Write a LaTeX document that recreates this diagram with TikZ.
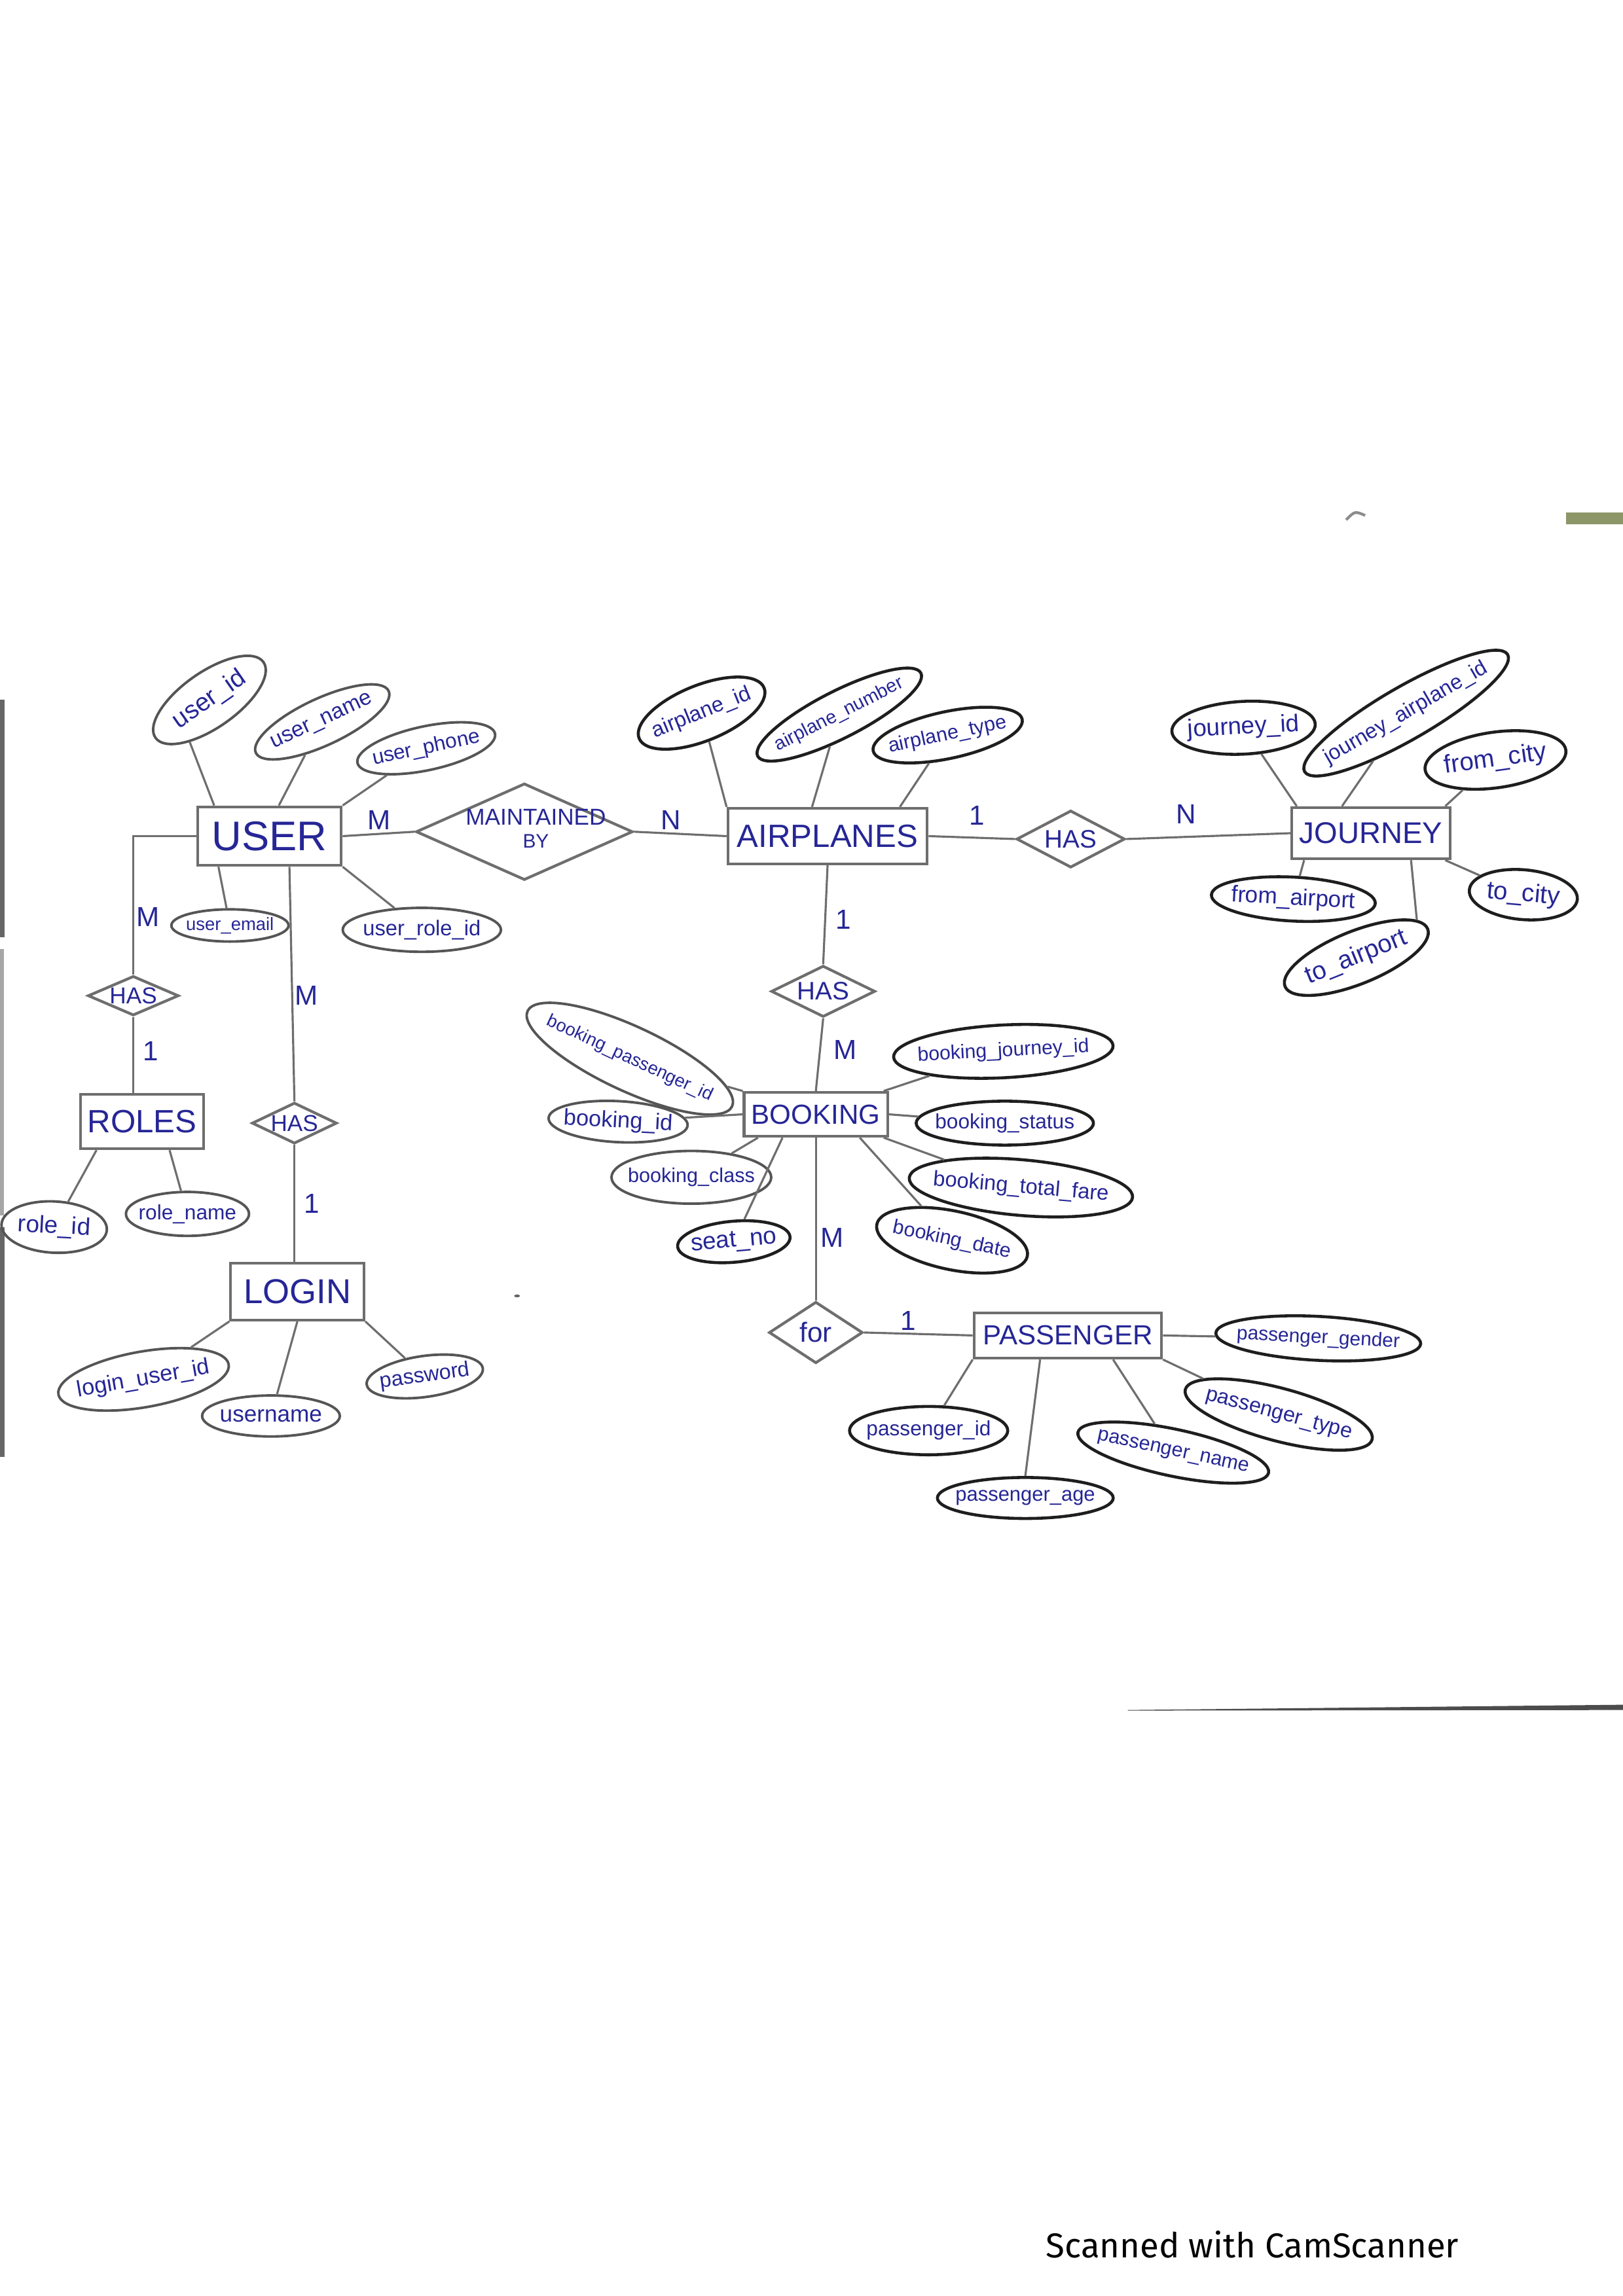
\documentclass[tikz,border=0pt]{standalone}
\usepackage{fontspec}
\setmainfont{Liberation Sans}
\newfontfamily\scanfont{Fira Sans}
\usetikzlibrary{shapes.geometric}
\definecolor{ink}{RGB}{38,38,150}
\definecolor{pencil}{RGB}{110,110,110}
\definecolor{ovalL}{RGB}{85,85,85}
\definecolor{ovalD}{RGB}{30,30,30}
\definecolor{smudge}{RGB}{140,150,105}
\newcommand\setfs[1]{\fontsize{#1}{#1}\selectfont}
\tikzset{
  ent/.style n args={3}{draw=pencil, line width=1.2pt, rectangle, minimum width=#1*0.22374mm,
    minimum height=#2*0.22374mm, inner sep=0pt, text=ink, font=\setfs{#3}},
  attr/.style n args={4}{draw=ovalL, line width=1.1pt, ellipse, minimum width=#1*0.22374mm,
    minimum height=#2*0.22374mm, rotate=#3, inner sep=0pt, text=ink, font=\setfs{#4}},
  dk/.style={draw=ovalD, line width=1.3pt},
  rel/.style n args={3}{draw=pencil, line width=1.2pt, diamond, minimum width=#1*0.22374mm,
    minimum height=#2*0.22374mm, inner sep=0pt, text=ink, font=\setfs{#3}},
  card/.style={text=ink, font=\setfs{12}, inner sep=0pt},
  conn/.style={draw=pencil, line width=0.9pt},
}
\begin{document}
\begin{tikzpicture}[x=0.022374cm, y=-0.022374cm]
\fill[white] (0,0) rectangle (1108,1568);
\useasboundingbox (0,0) rectangle (1108,1568);

% ---------- scan artefacts ----------
\fill[black!60] (0,478) rectangle (3,640);
\fill[black!35] (0,648) rectangle (2.5,830);
\fill[black!60] (0,838) rectangle (3,995);
\fill[smudge] (1069,350) rectangle (1108,358);
\draw[black!45, line width=1.2pt] (919,355) .. controls (925,349) .. (932,352);
\fill[black!70] (770,1167.8) -- (1108,1164.2) -- (1108,1167.8) -- (770,1168.2) -- cycle;
\fill[black!60] (353,885) ellipse (2 and 1);

% ---------- entities ----------
\node[ent={98}{40}{18}] (user) at (184,571) {USER};
\node[ent={136}{38}{14}] (airplanes) at (565,571) {AIRPLANES};
\node[ent={108}{35}{13}] (journey) at (936,569) {JOURNEY};
\node[ent={84}{37}{14}] (roles) at (97,766) {ROLES};
\node[ent={91}{39}{15}] (login) at (203,882) {LOGIN};
\node[ent={98}{30}{12}] (booking) at (557,761) {BOOKING};
\node[ent={128}{31}{12}] (passenger) at (729,912) {PASSENGER};

% ---------- relationships ----------
\node[rel={148}{66}{10}] (maint) at (358,568)
  {\makebox[0pt]{\hspace{3.5mm}\begin{tabular}{@{}c@{}}\setfs{10}MAINTAINED\\[0pt]\setfs{8.5}BY\end{tabular}}};
\node[rel={74}{39}{11}] (hasaj) at (731,573) {\makebox[0pt]{HAS}};
\node[rel={62}{27}{10}] (hasur) at (91,680) {\makebox[0pt]{HAS}};
\node[rel={58}{28}{10}] (hasul) at (201,767) {\makebox[0pt]{HAS}};
\node[rel={71}{35}{11}] (hasab) at (562,677) {\makebox[0pt]{HAS}};
\node[rel={64}{42}{12}] (for) at (557,910) {\makebox[0pt]{for}};

% ---------- attributes ----------
% USER
\node[attr={90}{38}{35}{11}] (uid) at (143,478) {\makebox[0pt]{user\_id}};
\node[attr={100}{32}{25}{9.5}] (uname) at (220,493) {\makebox[0pt]{user\_name}};
\node[attr={96}{30}{12}{9}] (uphone) at (291,511) {\makebox[0pt]{user\_phone}};
\node[attr={80}{22}{0}{7.8}] (uemail) at (157,632) {\makebox[0pt]{user\_email}};
\node[attr={108}{30}{0}{9.3}] (urole) at (288,635) {\makebox[0pt]{user\_role\_id}};
% ROLES
\node[attr={72}{35}{-3}{10.5}] (rid) at (37,838) {\makebox[0pt]{role\_id}};
\node[attr={84}{30}{0}{9}] (rname) at (128,829) {\makebox[0pt]{role\_name}};
% LOGIN
\node[attr={118}{38}{10}{9.8}] (luid) at (98,942) {\makebox[0pt]{login\_user\_id}};
\node[attr={94}{28}{0}{10}] (lname) at (185,967) {\makebox[0pt]{username}};
\node[attr={80}{28}{8}{9.2}] (lpass) at (290,940) {\makebox[0pt]{password}};
% AIRPLANES
\node[attr={92}{38}{22}{9.3}, dk] (aid) at (479,487) {\makebox[0pt]{airplane\_id}};
\node[attr={125}{32}{27}{8.2}, dk] (anum) at (573,488) {\makebox[0pt]{airplane\_number}};
\node[attr={104}{32}{12}{8.7}, dk] (atype) at (647,502) {\makebox[0pt]{airplane\_type}};
% JOURNEY
\node[attr={98}{36}{3}{10.5}, dk] (jid) at (849,497) {\makebox[0pt]{journey\_id}};
\node[attr={160}{36}{30}{9.2}, dk] (jaid) at (960,487) {\makebox[0pt]{journey\_airplane\_id}};
\node[attr={97}{38}{8}{11}, dk] (fcity) at (1021,519) {\makebox[0pt]{from\_city}};
\node[attr={74}{34}{-5}{11}, dk] (tcity) at (1040,611) {\makebox[0pt]{to\_city}};
\node[attr={112}{30}{-3}{10}, dk] (fairport) at (883,614) {\makebox[0pt]{from\_airport}};
\node[attr={105}{36}{22}{11}, dk] (tairport) at (926,654) {\makebox[0pt]{to\_airport}};
% BOOKING
\node[attr={154}{44}{-25}{7.8}] (bpid) at (430,723) {\makebox[0pt]{booking\_passenger\_id}};
\node[attr={150}{36}{3}{8.6}, dk] (bjid) at (685,718) {\makebox[0pt]{booking\_journey\_id}};
\node[attr={95}{28}{-3}{9.8}] (bid) at (422,766) {\makebox[0pt]{booking\_id}};
\node[attr={121}{30}{0}{9}, dk] (bstatus) at (686,767) {\makebox[0pt]{booking\_status}};
\node[attr={109}{36}{0}{8.7}] (bclass) at (472,804) {\makebox[0pt]{booking\_class}};
\node[attr={153}{38}{-5}{9.3}, dk] (bfare) at (697,811) {\makebox[0pt]{booking\_total\_fare}};
\node[attr={77}{28}{5}{10.5}, dk] (seat) at (501,848) {\makebox[0pt]{seat\_no}};
\node[attr={105}{40}{-12}{8.7}, dk] (bdate) at (650,847) {\makebox[0pt]{booking\_date}};
% PASSENGER
\node[attr={140}{30}{-3}{8.5}, dk] (pgender) at (900,914) {\makebox[0pt]{passenger\_gender}};
\node[attr={132}{36}{-15}{9.2}, dk] (ptype) at (873,966) {\makebox[0pt]{passenger\_type}};
\node[attr={133}{32}{-12}{8.7}, dk] (pname) at (801,992) {\makebox[0pt]{passenger\_name}};
\node[attr={120}{28}{0}{8.8}, dk] (page) at (700,1023) {\makebox[0pt]{passenger\_age}};
\node[attr={108}{33}{0}{9}, dk] (pid) at (634,977) {\makebox[0pt]{passenger\_id}};

% ---------- connectors ----------
\draw[conn] (user.151) -- (uid.210);
\draw[conn] (user.73) -- (uname);
\draw[conn] (user.north east) -- (uphone);
\draw[conn] (user.211) -- (uemail);
\draw[conn] (user.south east) -- (urole);
\draw[conn] (user.east) -- (maint.west);
\draw[conn] (user.west) -| (hasur.north);
\draw[conn] (user.303) -- (hasul.north);
\draw[conn] (hasur.south) -- (hasur.south |- roles.north);
\draw[conn] (roles.212) -- (rid);
\draw[conn] (roles.314) -- (rname);
\draw[conn] (hasul.south) -- (hasul.south |- login.north);
\draw[conn] (login.south west) -- (luid);
\draw[conn] (login.south) -- (lname);
\draw[conn] (login.south east) -- (lpass);

\draw[conn] (maint.east) -- (airplanes.west);
\draw[conn] (airplanes.north west) -- (aid);
\draw[conn] (airplanes.118) -- (anum);
\draw[conn] (airplanes.22) -- (atype);
\draw[conn] (airplanes.east) -- (hasaj.west);
\draw[conn] (hasaj.east) -- (journey.west);
\draw[conn] (airplanes.south) -- (hasab.north);

\draw[conn] (journey.160) -- (jid);
\draw[conn] (journey.137) -- (jaid);
\draw[conn] (journey.20) -- (fcity);
\draw[conn] (journey.340) -- (tcity);
\draw[conn] (journey.202) -- (fairport);
\draw[conn] (journey.326) -- (tairport.10);

\draw[conn] (hasab.south) -- (booking.north);
\draw[conn] (booking.north west) -- (bpid);
\draw[conn] (booking.19) -- (bjid);
\draw[conn] (booking.west) -- (bid);
\draw[conn] (booking.east) -- (bstatus);
\draw[conn] (booking.202) -- (bclass);
\draw[conn] (booking.215) -- (seat);
\draw[conn] (booking.332) -- (bdate);
\draw[conn] (booking.341) -- (bfare);
\draw[conn] (booking.south) -- (for.north);
\draw[conn] (for.east) -- (passenger.west);

\draw[conn] (passenger.east) -- (pgender);
\draw[conn] (passenger.south east) -- (ptype);
\draw[conn] (passenger.332) -- (pname);
\draw[conn] (passenger.221) -- (page.north);
\draw[conn] (passenger.south west) -- (pid);

% ---------- cardinalities ----------
\node[card] (c1) at (259,560) {M};
\node[card] (c2) at (458,560) {N};
\node[card] (c3) at (667,557) {1};
\node[card] (c4) at (810,556) {N};
\node[card] (c5) at (101,626) {M};
\node[card] (c6) at (103,718) {1};
\node[card] (c7) at (209,680) {M};
\node[card] (c8) at (213,822) {1};
\node[card] (c9) at (576,628) {1};
\node[card] (c10) at (577,717) {M};
\node[card] (c11) at (568,845) {M};
\node[card] (c12) at (620,902) {1};

% ---------- footer ----------
\node[font=\scanfont\setfs{15}, text=black] (scan) at (855,1533) {Scanned with CamScanner};
\end{tikzpicture}
\end{document}
